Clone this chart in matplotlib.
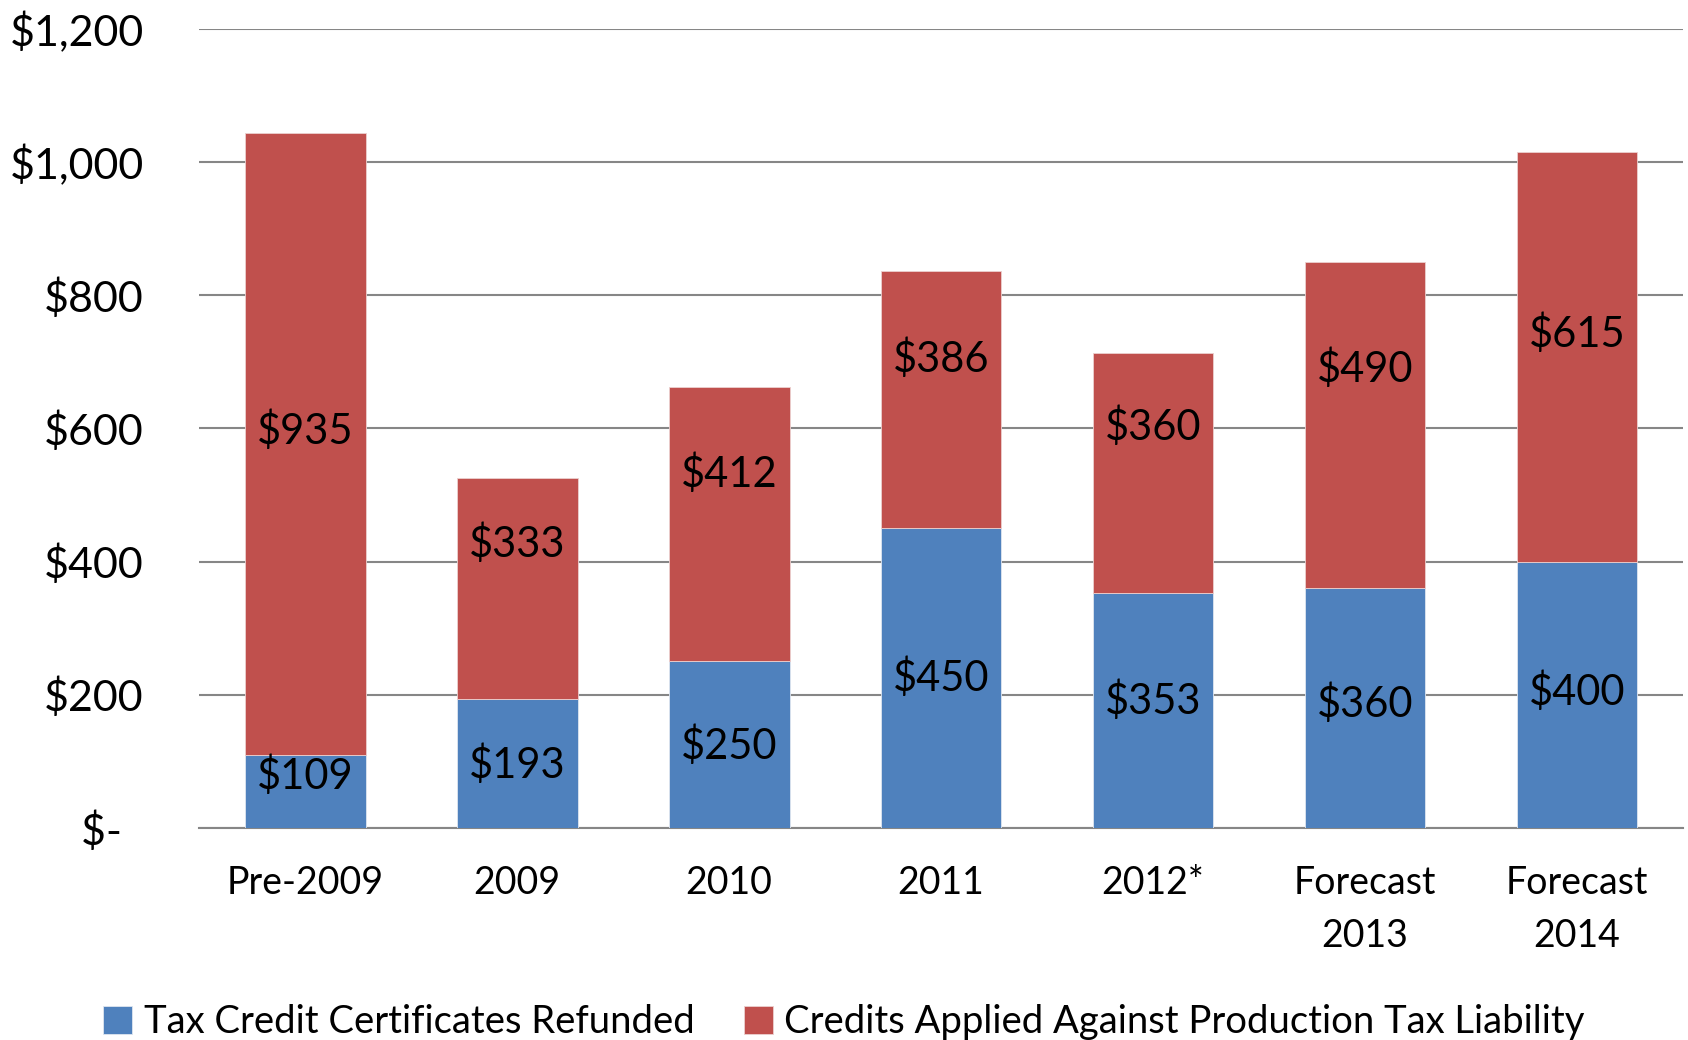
import numpy as np
import matplotlib
matplotlib.use('Agg')
import matplotlib.pyplot as plt

plt.rcParams['font.family'] = ['Lato', 'DejaVu Sans']

# data ($ millions)
categories = ['Pre-2009', '2009', '2010', '2011', '2012*', 'Forecast\n2013', 'Forecast\n2014']
refunded = [109, 193, 250, 450, 353, 360, 400]
applied = [935, 333, 412, 386, 360, 490, 615]
# label heights as placed in the original (not exactly mid-segment)
refunded_label_y = [79, 95, 123, 225, 191, 186, 205]
applied_label_y = [597, 427, 532, 705, 602, 689, 742]

yticks = [0, 200, 400, 600, 800, 1000, 1200]
ytick_labels = ['$-  ', '$200', '$400', '$600', '$800', '$1,000', '$1,200']

BLUE = '#4F81BD'
RED = '#C0504D'

fig = plt.figure(figsize=(16.88, 10.40), dpi=100)
ax = fig.add_axes([0.118, 0.204, 0.879, 0.768])

x = np.arange(len(categories))
w = 0.57
ax.bar(x, refunded, w, color=BLUE, edgecolor='#dfe6f0', linewidth=0.6,
       label='Tax Credit Certificates Refunded', zorder=3)
ax.bar(x, applied, w, bottom=refunded, color=RED, edgecolor='#ecd0cf', linewidth=0.6,
       label='Credits Applied Against Production Tax Liability', zorder=3)

for i in range(len(x)):
    ax.text(x[i], refunded_label_y[i], f'${refunded[i]}', ha='center', va='center',
            fontsize=30, color='black', zorder=4)
    ax.text(x[i], applied_label_y[i], f'${applied[i]}', ha='center', va='center',
            fontsize=30, color='black', zorder=4)

ax.set_xlim(-0.5, len(x) - 0.5)
ax.set_ylim(0, 1200)
ax.set_yticks(yticks)
ax.set_yticklabels(ytick_labels, fontsize=31)
ax.set_xticks(x)
ax.set_xticklabels(categories, fontsize=27, linespacing=1.58)
ax.tick_params(axis='y', length=0, pad=40)
ax.tick_params(axis='x', length=0, pad=27)
ax.grid(axis='y', color='#868686', linewidth=1.5, zorder=0)
for s in ['top', 'right', 'left']:
    ax.spines[s].set_visible(False)
ax.spines['bottom'].set_color('#868686')
ax.spines['bottom'].set_linewidth(1.5)

fig.legend(loc='center', bbox_to_anchor=(0.5, 0.017), ncol=2, frameon=False,
           fontsize=27.5, handlelength=0.75, handleheight=0.75, handletextpad=0.3,
           columnspacing=1.3)

fig.savefig('out.png', dpi=100)
